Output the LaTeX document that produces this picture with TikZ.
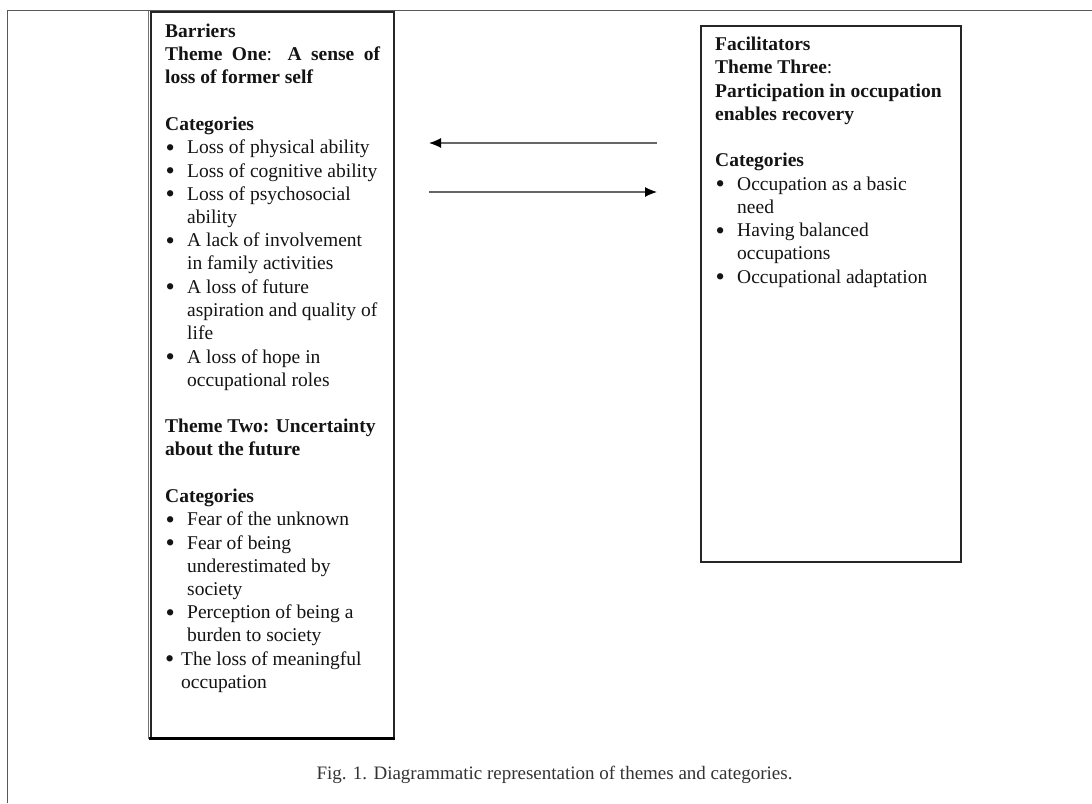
\documentclass[tikz,border=0pt]{standalone}
\usepackage{fontspec}
\usepackage{graphicx}
\setmainfont{Liberation Serif}
\usetikzlibrary{arrows.meta}
\newcommand\bdot{\smash{\raisebox{-2.6pt}{\scalebox{1.35}{\textbullet}}}}
\newcommand\bl{\makebox[22pt][l]{\hspace{0.5pt}\bdot}}
\newcommand\bls{\makebox[16pt][l]{\bdot}}
\newcommand\ind{\hspace*{22pt}}
\begin{document}
\begin{tikzpicture}[x=1pt,y=-1pt,
  box/.style={draw=black!85, line width=1.6pt, inner sep=0pt, anchor=north west},
  txt/.style={anchor=base west, inner sep=0pt, text=black!92, font=\fontsize{19.5}{23.25}\selectfont},
  arr/.style={draw=black!60, line width=1.2pt, -{Latex[length=12pt,width=10pt,color=black]}},
  frame/.style={draw=black!65, line width=1pt}]
\useasboundingbox (0,0) rectangle (1092,803);
\fill[white] (0,0) rectangle (1092,803);
% page frame (top and left rules)
\draw[frame] (7.5,803) -- (7.5,10) -- (1092,10);
% boxes
\node[box, minimum width=243pt, minimum height=726pt] (lbox) at (150,11) {};
\draw[line width=3pt, black] ([xshift=-0.8pt]lbox.south west) -- ([xshift=0.8pt]lbox.south east);
\draw[line width=1pt, black!55] ([xshift=-1.2pt]lbox.north west) -- ([xshift=-1.2pt]lbox.south west);
\node[box, minimum width=260pt, minimum height=536pt] (rbox) at (700,25) {};
% left text
\node[txt] (ltext) at (165,37.5) {\begin{tabular}[t]{@{}l@{}}
\textbf{Barriers}\\
\makebox[215pt][s]{\textbf{Theme One}: \textbf{A sense of}}\\
\textbf{loss of former self}\\
\\
\textbf{Categories}\\
\bl Loss of physical ability\\
\bl Loss of cognitive ability\\
\bl Loss of psychosocial\\
\ind ability\\
\bl A lack of involvement\\
\ind in family activities\\
\bl A loss of future\\
\ind aspiration and quality of\\
\ind life\\
\bl A loss of hope in\\
\ind occupational roles\\
\\
\textbf{Theme Two: Uncertainty}\\
\textbf{about the future}\\
\\
\textbf{Categories}\\
\bl Fear of the unknown\\
\bl Fear of being\\
\ind underestimated by\\
\ind society\\
\bl Perception of being a\\
\ind burden to society\\
\bls The loss of meaningful\\
\hspace*{16pt}occupation
\end{tabular}};
% right text
\node[txt] (rtext) at (715,50.5) {\begin{tabular}[t]{@{}l@{}}
\textbf{Facilitators}\\
\textbf{Theme Three}:\\
\textbf{Participation in occupation}\\
\textbf{enables recovery}\\
\\
\textbf{Categories}\\
\bl Occupation as a basic\\
\ind need\\
\bl Having balanced\\
\ind occupations\\
\bl Occupational adaptation
\end{tabular}};
% arrows
\coordinate (u1) at (657,143);
\coordinate (u2) at (429,143);
\coordinate (d1) at (429,192);
\coordinate (d2) at (657,192);
\draw[arr] (u1) -- (u2);
\draw[arr] (d1) -- (d2);
% caption
\node[anchor=base, inner sep=0pt, text=black!80, font=\fontsize{19}{23}\selectfont] (cap) at (554.5,779)
  {Fig. 1. Diagrammatic representation of themes and categories.};
\end{tikzpicture}
\end{document}
